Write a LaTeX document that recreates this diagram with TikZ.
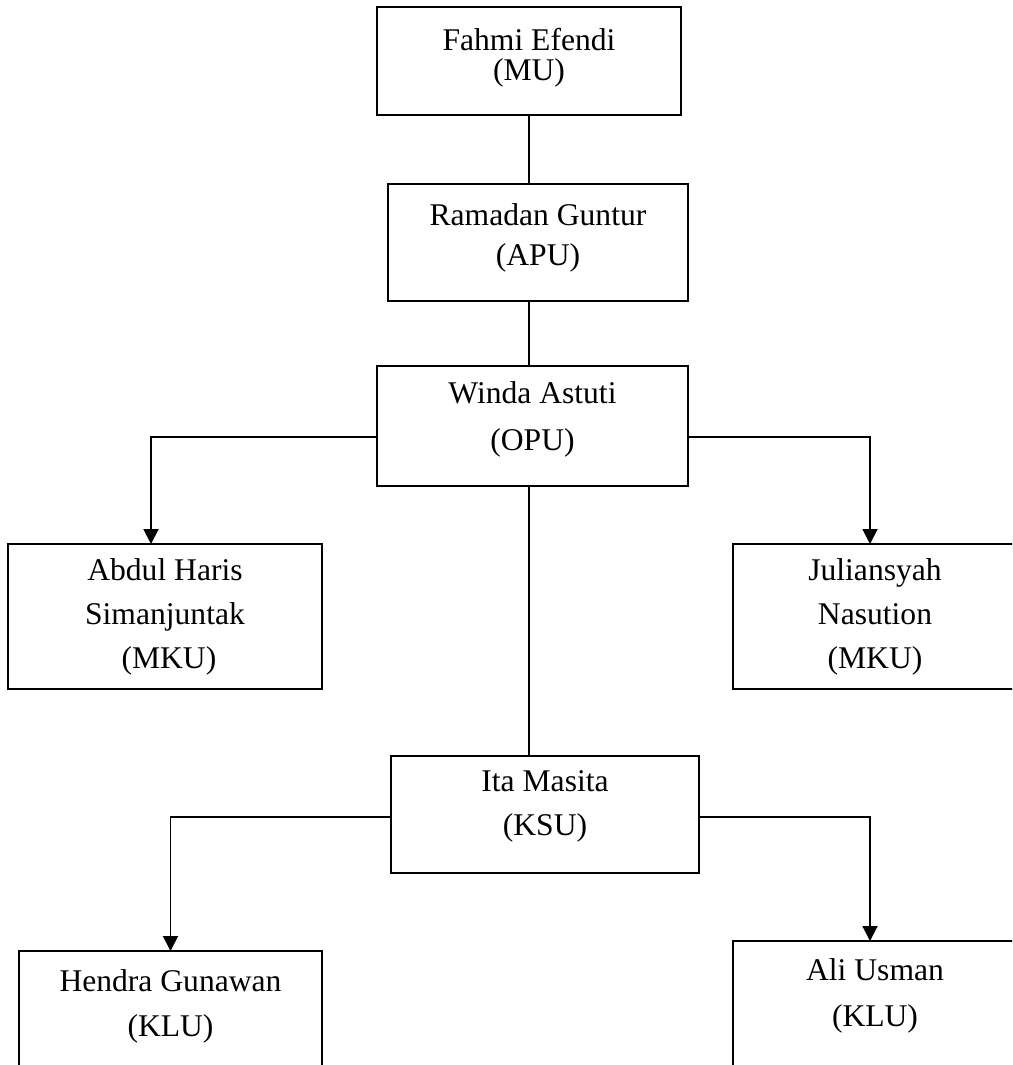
\documentclass[tikz,border=0pt]{standalone}
\usepackage{fontspec}
\setmainfont{Liberation Serif}
\usetikzlibrary{arrows.meta,positioning}
\newcommand{\dropby}[1]{\rule[-#1]{0pt}{#1}}

\begin{document}
\begin{tikzpicture}[
  x=1pt, y=-1pt,
  line width=1.9pt,
  >={Triangle[length=15pt,width=15pt]},
  unit/.style={draw, outer sep=0pt, inner sep=0pt, align=center, font=\fontsize{31.6pt}{44pt}\selectfont},
]
\clip (0,0) rectangle (1012,1065);

% Top chain
\node[unit, minimum width=304pt, minimum height=108pt, font=\fontsize{31.6pt}{30pt}\selectfont] (fahmi) at (529,61) {Fahmi Efendi\\(MU)\dropby{13.6pt}};
\node[unit, minimum width=300pt, minimum height=117pt, font=\fontsize{31.6pt}{40pt}\selectfont, below=69pt of fahmi, xshift=9pt] (ramadan) {Ramadan Guntur\\(APU)\dropby{16.6pt}};
\node[unit, minimum width=311pt, minimum height=120pt, font=\fontsize{31.6pt}{47pt}\selectfont, below=65pt of ramadan, xshift=-5.5pt] (winda) {Winda Astuti\\(OPU)\dropby{20.6pt}};

% Second level
\node[unit, minimum width=314pt, minimum height=145pt, below left=58pt and 55pt of winda] (abdul) {Abdul Haris\\Simanjuntak\\\hspace*{.25em}(MKU)};
\node[unit, minimum width=284pt, minimum height=145pt, below right=58pt and 45pt of winda] (julian) {Juliansyah\\Nasution\\(MKU)};
\node[unit, minimum width=308pt, minimum height=117pt, below=270pt of winda, xshift=12.5pt] (ita) {Ita Masita\\(KSU)\dropby{22.6pt}};

% Bottom level
\node[unit, minimum width=303pt, minimum height=129pt, font=\fontsize{31.6pt}{45pt}\selectfont, below left=78pt and 69pt of ita] (hendra) {Hendra Gunawan\\(KLU)\dropby{25.6pt}};
\node[unit, minimum width=284pt, minimum height=139pt, font=\fontsize{31.6pt}{46pt}\selectfont, below right=68pt and 34pt of ita] (ali) {Ali Usman\\(KLU)\dropby{36.6pt}};

\draw (fahmi.south) -- (ramadan.north -| fahmi.south);
\draw (ramadan.south -| fahmi.south) -- (winda.north -| fahmi.south);
\draw (winda.south -| fahmi.south) -- (ita.north -| fahmi.south);

\draw[->] ([yshift=-11pt]winda.west) -| ([xshift=-14pt]abdul.north);
\draw[->] ([yshift=-11pt]winda.east) -| ([xshift=-5pt]julian.north);
\draw[->] ([yshift=-2.5pt]ita.west) -| (hendra.north);
\draw[->] ([yshift=-2.5pt]ita.east) -| ([xshift=-5pt]ali.north);
\end{tikzpicture}
\end{document}
